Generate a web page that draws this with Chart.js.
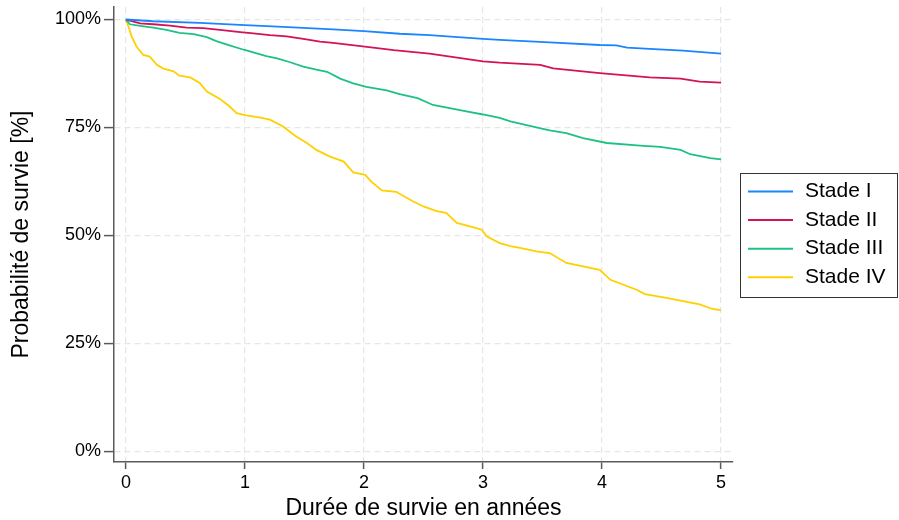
<!DOCTYPE html>
<html>
<head>
<meta charset="utf-8">
<script src="https://cdn.jsdelivr.net/npm/chart.js@4"></script>
<style>
  body { margin: 0; background: #fff; }
  #wrap { width: 899px; height: 520px; }
</style>
</head>
<body>
<div id="wrap"><canvas id="survChart" width="899" height="520"></canvas></div>
<script>
// valeurs (années, survie en %)
const stageLabels = ['Stade I', 'Stade II', 'Stade III', 'Stade IV'];
const stageColors = ['#1a85ff', '#d41159', '#1dc283', '#ffd000'];

const yearsI = [0, 0.23, 0.62, 1.0, 1.32, 1.74, 2.0, 2.3, 2.55, 3.0, 3.14, 3.56, 3.98, 4.12, 4.21, 4.40, 4.68, 5.0];
const survI = [100, 99.6, 99.2, 98.7, 98.3, 97.7, 97.3, 96.7, 96.4, 95.5, 95.3, 94.7, 94.1, 94.0, 93.5, 93.2, 92.8, 92.1];

const yearsII = [0, 0.12, 0.23, 0.37, 0.51, 0.65, 0.79, 0.96, 1.07, 1.21, 1.35, 1.49, 1.63, 1.74, 1.99, 2.25, 2.55, 3.0, 3.14, 3.48, 3.59, 3.98, 4.40, 4.66, 4.82, 5.0];
const survII = [100, 99.1, 98.9, 98.6, 98.1, 98.0, 97.6, 97.1, 96.8, 96.4, 96.1, 95.5, 94.9, 94.6, 93.8, 92.9, 92.1, 90.3, 90.0, 89.5, 88.7, 87.6, 86.6, 86.3, 85.6, 85.4];

const yearsIII = [0, 0.034, 0.15, 0.23, 0.34, 0.45, 0.57, 0.68, 0.76, 0.85, 0.99, 1.07, 1.18, 1.27, 1.38, 1.49, 1.60, 1.69, 1.80, 1.91, 2.02, 2.19, 2.30, 2.45, 2.58, 2.86, 3.0, 3.14, 3.23, 3.42, 3.56, 3.70, 3.84, 4.04, 4.32, 4.49, 4.66, 4.74, 4.91, 5.0];
const survIII = [100, 98.9, 98.4, 98.1, 97.6, 96.9, 96.6, 95.9, 95.0, 94.2, 93.0, 92.4, 91.5, 91.0, 90.1, 89.1, 88.4, 87.9, 86.3, 85.2, 84.4, 83.6, 82.7, 81.8, 80.2, 78.7, 78.0, 77.2, 76.4, 75.2, 74.3, 73.7, 72.5, 71.4, 70.8, 70.5, 69.8, 68.8, 67.9, 67.6];

const yearsIV = [0, 0.02, 0.048, 0.09, 0.146, 0.20, 0.26, 0.31, 0.40, 0.45, 0.54, 0.62, 0.68, 0.79, 0.87, 0.93, 1.01, 1.13, 1.21, 1.32, 1.43, 1.52, 1.60, 1.71, 1.83, 1.91, 2.01, 2.06, 2.15, 2.27, 2.41, 2.50, 2.61, 2.69, 2.78, 2.89, 2.99, 3.03, 3.14, 3.23, 3.31, 3.45, 3.56, 3.70, 3.98, 4.07, 4.29, 4.36, 4.54, 4.82, 4.92, 5.0];
const survIV = [100, 98.5, 96.1, 93.7, 91.8, 91.4, 89.5, 88.7, 88.0, 87.0, 86.6, 85.3, 83.3, 81.6, 79.9, 78.3, 77.8, 77.3, 76.8, 75.2, 72.9, 71.4, 69.8, 68.3, 67.1, 64.6, 64.0, 62.5, 60.4, 60.1, 57.9, 56.7, 55.6, 55.2, 52.9, 52.1, 51.3, 49.8, 48.2, 47.5, 47.1, 46.3, 45.9, 43.6, 42.0, 39.7, 37.4, 36.4, 35.5, 34.0, 33.0, 32.6];

const allYears = [yearsI, yearsII, yearsIII, yearsIV];
const allSurv = [survI, survII, survIII, survIV];

const FONT = '"Liberation Sans", Arial, sans-serif';
const AXIS = '#5a5a5a';

// legende encadree a droite du graphique
const boxLegend = {
    id: 'boxLegend',
    afterDraw(chart) {
        const { ctx, chartArea } = chart;
        const x0 = chartArea.right + 7, w = 157, h = 124, rowH = 28.6;
        const y0 = (chartArea.top + chartArea.bottom) / 2 - h / 2;
        ctx.save();
        ctx.strokeStyle = '#333';
        ctx.lineWidth = 1;
        ctx.strokeRect(Math.round(x0) + 0.5, Math.round(y0) + 0.5, w, h);
        ctx.font = '21px ' + FONT;
        ctx.textBaseline = 'middle';
        chart.data.datasets.forEach((ds, i) => {
            const y = y0 + 19 + i * rowH;
            ctx.strokeStyle = ds.borderColor;
            ctx.lineWidth = 2;
            ctx.beginPath();
            ctx.moveTo(x0 + 8, y);
            ctx.lineTo(x0 + 53, y);
            ctx.stroke();
            ctx.fillStyle = '#000';
            ctx.fillText(ds.label, x0 + 65, y);
        });
        ctx.restore();
    }
};

const ctx = document.getElementById('survChart').getContext('2d');
new Chart(ctx, {
    type: 'line',
    data: {
        datasets: stageLabels.map((label, i) => ({
            label: label,
            data: allYears[i].map((t, j) => ({ x: t, y: allSurv[i][j] })),
            borderColor: stageColors[i],
            backgroundColor: stageColors[i],
            borderWidth: 1.8,
            pointRadius: 0,
            tension: 0,
            fill: false
        }))
    },
    options: {
        responsive: false,
        animation: false,
        layout: { padding: { left: 0, right: 166, top: 7, bottom: 0 } },
        plugins: {
            legend: { display: false },
            tooltip: { enabled: false }
        },
        scales: {
            x: {
                type: 'linear',
                min: -0.1,
                max: 5.1,
                afterFit: s => { s.height = 58; s.paddingLeft = 0; s.paddingRight = 0; },
                ticks: { stepSize: 1, includeBounds: false, color: '#000', padding: 3, maxRotation: 0,
                         font: { family: FONT, size: 18 } },
                grid: { color: '#e6e6e6', lineWidth: 1.2, tickLength: 7, tickColor: AXIS, tickWidth: 1.5 },
                border: { display: true, color: AXIS, width: 1.5, dash: [6, 4] },
                title: { display: true, text: 'Durée de survie en années', color: '#000',
                         font: { family: FONT, size: 23, lineHeight: 1 }, padding: { top: 0, bottom: 0 } }
            },
            y: {
                min: -2.5,
                max: 102.9,
                afterFit: s => { s.width = 114; s.paddingTop = 0; s.paddingBottom = 0; },
                ticks: { stepSize: 25, includeBounds: false, color: '#000', padding: 3,
                         font: { family: FONT, size: 18 }, callback: v => v + '%' },
                grid: { color: '#e6e6e6', lineWidth: 1.2, tickLength: 10, tickColor: AXIS, tickWidth: 1.5 },
                border: { display: true, color: AXIS, width: 1.5, dash: [6, 4] },
                title: { display: true, text: 'Probabilité de survie [%]', color: '#000',
                         font: { family: FONT, size: 23, lineHeight: 1 }, padding: { top: 10, bottom: 0 } }
            }
        }
    },
    plugins: [boxLegend]
});
</script>
</body>
</html>
